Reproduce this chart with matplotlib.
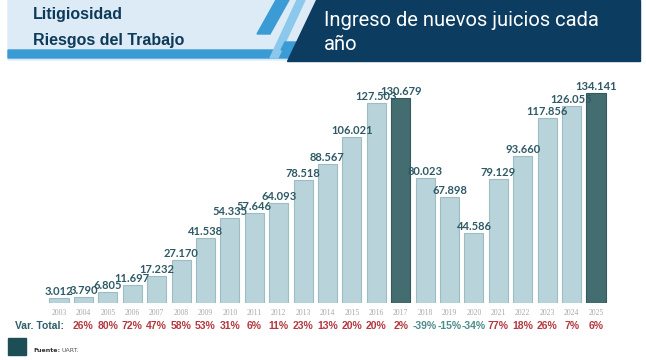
import numpy as np
import matplotlib
matplotlib.use("Agg")
import matplotlib.pyplot as plt
from matplotlib.patches import Polygon, Rectangle

# datos
years = list(range(2003, 2026))
juicios = [3012, 3790, 6805, 11697, 17232, 27170, 41538, 54335, 57646, 64093,
           78518, 88567, 106021, 127503, 130679, 80023, 67898, 44586, 79129,
           93660, 117856, 126055, 134141]
var_total = [26, 80, 72, 47, 58, 53, 31, 6, 11, 23, 13, 20, 20, 2, -39, -15,
             -34, 77, 18, 26, 7, 6]
destacados = [2017, 2025]

W, H = 646, 360
fig = plt.figure(figsize=(W / 100, H / 100), dpi=100)
fig.patch.set_facecolor("white")

# fondo / encabezado en coordenadas de pixel
bg = fig.add_axes([0, 0, 1, 1], zorder=0)
bg.set_xlim(0, W)
bg.set_ylim(H, 0)
bg.axis("off")

bg.add_patch(Polygon([(8, 0), (318, 0), (290, 60), (8, 60)], color="#dcebf6"))
bg.add_patch(Polygon([(8, 50), (296, 50), (292, 58), (8, 58)], color="#3a9bd5"))
bg.add_patch(Polygon([(276, 0), (289, 0), (270, 34), (257, 34)], color="#3a9bd5"))
bg.add_patch(Polygon([(297, 0), (305, 0), (278, 58), (270, 58)], color="#8cc8ec"))
bg.add_patch(Polygon([(285, 42), (302, 42), (298, 50), (281, 50)], color="#3a9bd5"))
bg.add_patch(Polygon([(316, 0), (640, 0), (640, 61), (287, 61)], color="#0c3c60"))

hdr_font = ["Liberation Sans Narrow", "Liberation Sans", "DejaVu Sans"]
bg.text(33, 14, "Litigiosidad", fontsize=11.5, fontweight="bold", color="#0e3a5a",
        family=hdr_font, va="center", ha="left")
bg.text(33, 40, "Riesgos del Trabajo", fontsize=11.5, fontweight="bold", color="#0e3a5a",
        family=hdr_font, va="center", ha="left")
tit_font = ["Roboto", "Open Sans", "DejaVu Sans"]
bg.text(324, 20, "Ingreso de nuevos juicios cada", fontsize=14.5, color="white",
        family=tit_font, va="center", ha="left")
bg.text(324, 44, "año", fontsize=14.5, color="white",
        family=tit_font, va="center", ha="left")

# fuente
bg.add_patch(Rectangle((8, 338), 18, 17, color="#1d4e55"))
bg.text(33, 350, "Fuente:", fontsize=4.5, fontweight="bold", color="#333333",
        va="center", ha="left")
bg.text(62, 350, "UART.", fontsize=4.5, color="#555555", va="center", ha="left")

# grafico de barras
left_px, right_px = 46.8, 608.2
base_px, top_px = 303, 70
ax = fig.add_axes([left_px / W, (H - base_px) / H, (right_px - left_px) / W,
                   (base_px - top_px) / H], zorder=1)
ax.patch.set_alpha(0)

x = np.arange(len(years))
colors = ["#436d70" if y in destacados else "#b8d3d9" for y in years]
edges = ["#35595c" if y in destacados else "#9dbcc4" for y in years]
ax.bar(x, juicios, width=0.78, color=colors, edgecolor=edges, linewidth=0.8)

ax.set_xlim(-0.5, len(years) - 0.5)
ax.set_ylim(0, max(juicios) * 233 / 210)
for s in ax.spines.values():
    s.set_visible(False)
ax.set_yticks([])
ax.set_xticks(x)
ax.set_xticklabels([str(y) for y in years], fontsize=5.5, color="#a8a8a8",
                   family=["Liberation Serif", "DejaVu Serif"])
ax.tick_params(axis="x", length=0, pad=4)

lab_font = ["Lato", "DejaVu Sans"]
for xi, v in zip(x, juicios):
    ax.annotate(f"{v:,}".replace(",", "."), (xi, v), xytext=(0, 0.8),
                textcoords="offset points", ha="center", va="bottom",
                fontsize=8, fontweight="bold", color="#2e5a66", family=lab_font)

var_font = ["Liberation Sans", "DejaVu Sans"]
tr = ax.get_xaxis_transform()
for xi, p in zip(x[1:], var_total):
    ax.text(xi, -0.099, f"{p}%", transform=tr, ha="center", va="center",
            fontsize=7.5, fontweight="bold",
            color="#b3383f" if p >= 0 else "#4c8c8c", family=var_font)

bg.text(15, 326, "Var. Total:", fontsize=7.5, fontweight="bold", color="#2f5f6a",
        va="center", ha="left", family=var_font)

fig.savefig("out.png", dpi=100)
